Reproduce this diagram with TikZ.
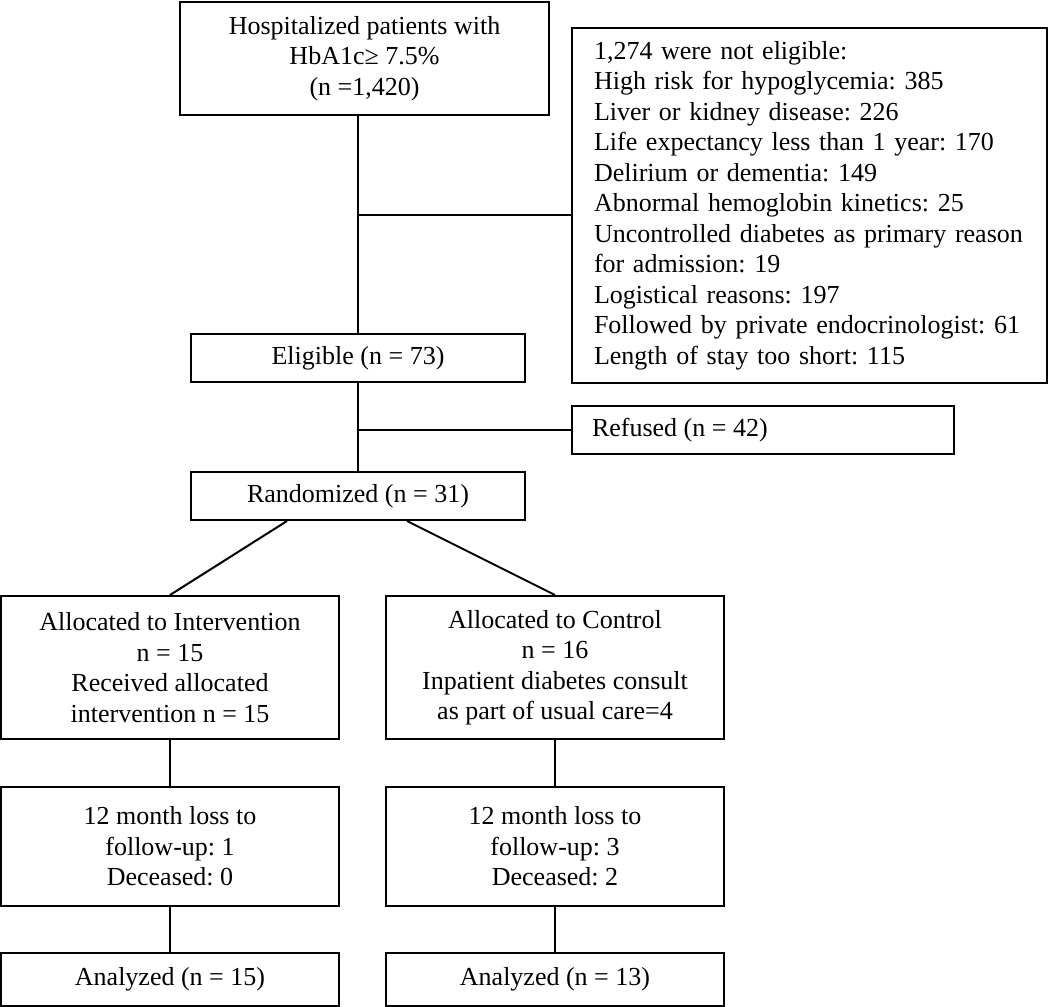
\documentclass[tikz,border=0pt]{standalone}
\usepackage{fontspec}
\setmainfont{Liberation Serif}
\frenchspacing
\begin{document}
\begin{tikzpicture}[x=1pt,y=-1pt,
  box/.style={draw, line width=2pt, inner sep=0pt, align=center, font=\frenchspacing\fontsize{26}{30.5}\selectfont},
  conn/.style={line width=2pt}]
\useasboundingbox (0,0) rectangle (1050,1007);
\node[box, minimum width=369pt, minimum height=113pt] (top) at (364.5,58.5)
  {Hospitalized patients with\\HbA1c≥ 7.5\%\\(n =1,420)};
\node[box, align=left, text width=431pt, inner xsep=22pt, minimum height=355pt] (excl) at (809.5,205.5)
  {1,274 were not eligible:\\
   High risk for hypoglycemia: 385\\
   Liver or kidney disease: 226\\
   Life expectancy less than 1 year: 170\\
   Delirium or dementia: 149\\
   Abnormal hemoglobin kinetics: 25\\
   Uncontrolled diabetes as primary reason\\
   for admission: 19\\
   Logistical reasons: 197\\
   Followed by private endocrinologist: 61\\
   Length of stay too short: 115};
\node[box, minimum width=334pt, minimum height=48pt] (elig) at (358,358) {Eligible (n = 73)};
\node[box, inner xsep=20pt, minimum height=48pt] (ref) at (763,430) {\makebox[342pt][l]{Refused (n = 42)}};
\node[box, minimum width=334pt, minimum height=48pt] (rand) at (358,496) {Randomized (n = 31)};
\node[box, minimum width=338pt, minimum height=143pt] (allocL) at (170,667.5)
  {Allocated to Intervention\\n = 15\\Received allocated\\intervention n = 15};
\node[box, minimum width=338pt, minimum height=143pt] (allocR) at (555,667.5)
  {Allocated to Control\\n = 16\\Inpatient diabetes consult\\as part of usual care=4};
\node[box, minimum width=338pt, minimum height=119pt] (lossL) at (170,846.5)
  {12 month loss to\\follow-up: 1\\Deceased: 0};
\node[box, minimum width=338pt, minimum height=119pt] (lossR) at (555,846.5)
  {12 month loss to\\follow-up: 3\\Deceased: 2};
\node[box, minimum width=338pt, minimum height=53pt] (anaL) at (170,979.5) {Analyzed (n = 15)};
\node[box, minimum width=338pt, minimum height=53pt] (anaR) at (555,979.5) {Analyzed (n = 13)};
\coordinate (b1) at (358,215);
\draw[conn] (top.south -| elig.north) -- (elig.north);
\draw[conn] (b1) -- (b1 -| excl.west);
\draw[conn] (elig.south) -- (rand.north);
\draw[conn] (elig.south |- ref.west) -- (ref.west);
\draw[conn] ([xshift=-71pt]rand.south) -- (allocL.north);
\draw[conn] ([xshift=49pt]rand.south) -- (allocR.north);
\draw[conn] (allocL.south) -- (lossL.north);
\draw[conn] (allocR.south) -- (lossR.north);
\draw[conn] (lossL.south) -- (anaL.north);
\draw[conn] (lossR.south) -- (anaR.north);
\end{tikzpicture}
\end{document}
